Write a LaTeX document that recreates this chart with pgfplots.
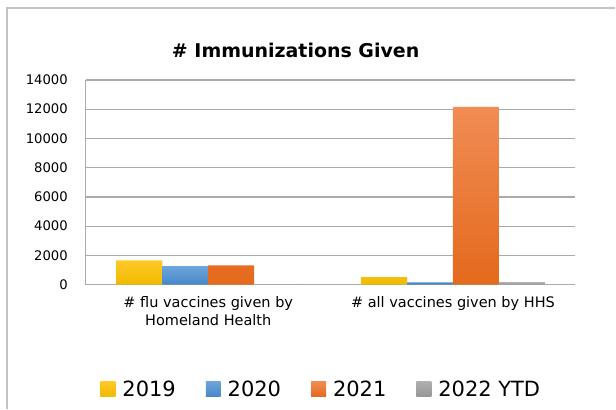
\documentclass[border=0pt]{standalone}
\usepackage{fontspec}
\setmainfont{DejaVu Sans}
\usepackage{pgfplots}
\pgfplotsset{compat=1.18}

\definecolor{yrA}{RGB}{255,200,40}
\definecolor{yrAb}{RGB}{240,186,0}
\definecolor{yrB}{RGB}{110,165,220}
\definecolor{yrBb}{RGB}{70,135,200}
\definecolor{yrC}{RGB}{240,140,85}
\definecolor{yrCb}{RGB}{228,105,28}
\definecolor{yrD}{RGB}{175,175,175}
\definecolor{yrDb}{RGB}{150,150,150}
\definecolor{gridgray}{RGB}{170,170,170}
\definecolor{framegray}{RGB}{195,195,195}

\begin{document}
\begin{tikzpicture}[x=1pt,y=1pt]
  % page size = 616 x 409 px
  \path (0,0) rectangle (616,409);
  \draw[framegray, line width=1.5pt] (7,0) -- (7,401) -- (616,401);
  \node[anchor=base, font=\fontsize{19}{22}\selectfont\bfseries] at (296,351) {\# Immunizations Given};

  \begin{axis}[
      at={(86pt,124pt)}, anchor=south west,
      scale only axis, width=490pt, height=205pt,
      ybar=0pt, bar width=46pt,
      xmin=-0.5, xmax=1.5,
      ymin=0, ymax=14000,
      ytick={0,2000,...,14000},
      scaled y ticks=false,
      xtick={0,1},
      xticklabels={{\# flu vaccines given by\\Homeland Health}, {\# all vaccines given by HHS}},
      x tick label style={align=center, anchor=north, inner sep=0pt, yshift=-12pt,
        font=\fontsize{14.5}{18}\selectfont},
      y tick label style={anchor=east, inner sep=0pt, xshift=-18pt,
        font=\fontsize{13.2}{16}\selectfont},
      /pgf/number format/1000 sep={},
      /pgf/number format/assume math mode=true,
      major tick length=0pt,
      axis x line*=bottom, axis y line*=left,
      axis line style={gridgray, line width=1.2pt},
      ymajorgrids, grid style={gridgray, line width=1.2pt},
      legend columns=4,
      legend style={draw=none, fill=none, at={(0.48,-0.51)}, anchor=center,
        font=\fontsize{21}{24}\selectfont,
        nodes={inner sep=1pt},
        /tikz/every even column/.append style={column sep=29pt},
        /tikz/every odd column/.append style={column sep=6pt}},
      legend image code/.code={\path[#1, draw=none] (0pt,-7.5pt) rectangle (15pt,7.5pt);},
    ]
    \addplot[draw=none, top color=yrA, bottom color=yrAb] coordinates {(0,1660) (1,518)};
    \addplot[draw=none, top color=yrB, bottom color=yrBb] coordinates {(0,1270) (1,157)};
    \addplot[draw=none, top color=yrC, bottom color=yrCb] coordinates {(0,1316) (1,12155)};
    \addplot[draw=none, top color=yrD, bottom color=yrDb] coordinates {(0,0) (1,165)};
    \legend{2019, 2020, 2021, 2022 YTD}
  \end{axis}
\end{tikzpicture}
\end{document}
